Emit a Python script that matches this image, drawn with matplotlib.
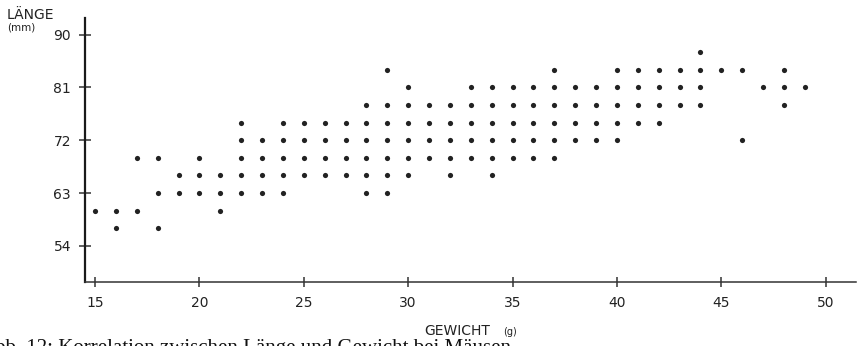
import matplotlib
matplotlib.use("Agg")
import matplotlib.pyplot as plt

# Gewicht (g) und die dazu gemessenen Laengen (mm)
gewicht = list(range(15, 50))
laengen = [
    [60],                       # 15
    [60, 57],                   # 16
    [69, 60],                   # 17
    [69, 63, 57],               # 18
    [66, 63],                   # 19
    [69, 66, 63],               # 20
    [66, 63, 60],               # 21
    [75, 72, 69, 66, 63],       # 22
    [72, 69, 66, 63],           # 23
    [75, 72, 69, 66, 63],       # 24
    [75, 72, 69, 66],           # 25
    [75, 72, 69, 66],           # 26
    [75, 72, 69, 66],           # 27
    [78, 75, 72, 69, 66, 63],   # 28
    [84, 78, 75, 72, 69, 66, 63],  # 29
    [81, 78, 75, 72, 69, 66],   # 30
    [78, 75, 72, 69],           # 31
    [78, 75, 72, 69, 66],       # 32
    [81, 78, 75, 72, 69],       # 33
    [81, 78, 75, 72, 69, 66],   # 34
    [81, 78, 75, 72, 69],       # 35
    [81, 78, 75, 72, 69],       # 36
    [84, 81, 78, 75, 72, 69],   # 37
    [81, 78, 75, 72],           # 38
    [81, 78, 75, 72],           # 39
    [84, 81, 78, 75, 72],       # 40
    [84, 81, 78, 75],           # 41
    [84, 81, 78, 75],           # 42
    [84, 81, 78],               # 43
    [87, 84, 81, 78],           # 44
    [84],                       # 45
    [84, 72],                   # 46
    [81],                       # 47
    [84, 81, 78],               # 48
    [81],                       # 49
]

x_ticks = [15, 20, 25, 30, 35, 40, 45, 50]
y_ticks = [54, 63, 72, 81, 90]

xs = [g for g, ls in zip(gewicht, laengen) for _ in ls]
ys = [l for ls in laengen for l in ls]

fig = plt.figure(figsize=(8.62, 3.46), dpi=100)
ax = fig.add_axes([0.0986, 0.186, 0.8944, 0.762])

ax.scatter(xs, ys, s=14, color="#222222", linewidths=0, zorder=3)

ax.set_xlim(14.52, 51.45)
ax.set_ylim(47.9, 92.85)
ax.set_xticks(x_ticks)
ax.set_yticks(y_ticks)

for side in ("top", "right"):
    ax.spines[side].set_visible(False)
ax.spines["left"].set_linewidth(1.6)
ax.spines["left"].set_color("#1a1a1a")
ax.spines["bottom"].set_linewidth(1.1)
ax.spines["bottom"].set_color("#333333")

ax.tick_params(axis="x", direction="inout", length=7, width=1.1,
               color="#333333", pad=6.5, labelsize=10, labelcolor="#222222")
ax.tick_params(axis="y", direction="inout", length=9, width=1.1,
               color="#333333", pad=5.5, labelsize=10, labelcolor="#222222")

fig.text(7 / 862, 1 - 8 / 346, "LÄNGE", fontsize=10, va="top", ha="left",
         color="#222222")
fig.text(7 / 862, 1 - 22 / 346, "(mm)", fontsize=7.5, va="top", ha="left",
         color="#222222")
fig.text(424 / 862, 1 - 335 / 346, "GEWICHT", fontsize=10, va="baseline",
         ha="left", color="#222222")
fig.text(503 / 862, 1 - 335 / 346, "(g)", fontsize=7, va="baseline",
         ha="left", color="#222222")

# Bildunterschrift, am unteren Rand angeschnitten
fig.text(-20 / 862, 1 - 339 / 346,
         "Abb. 12: Korrelation zwischen Länge und Gewicht bei Mäusen",
         fontsize=15, family="Liberation Serif", va="top", ha="left",
         color="#111111")

fig.savefig("out.png", dpi=100)
